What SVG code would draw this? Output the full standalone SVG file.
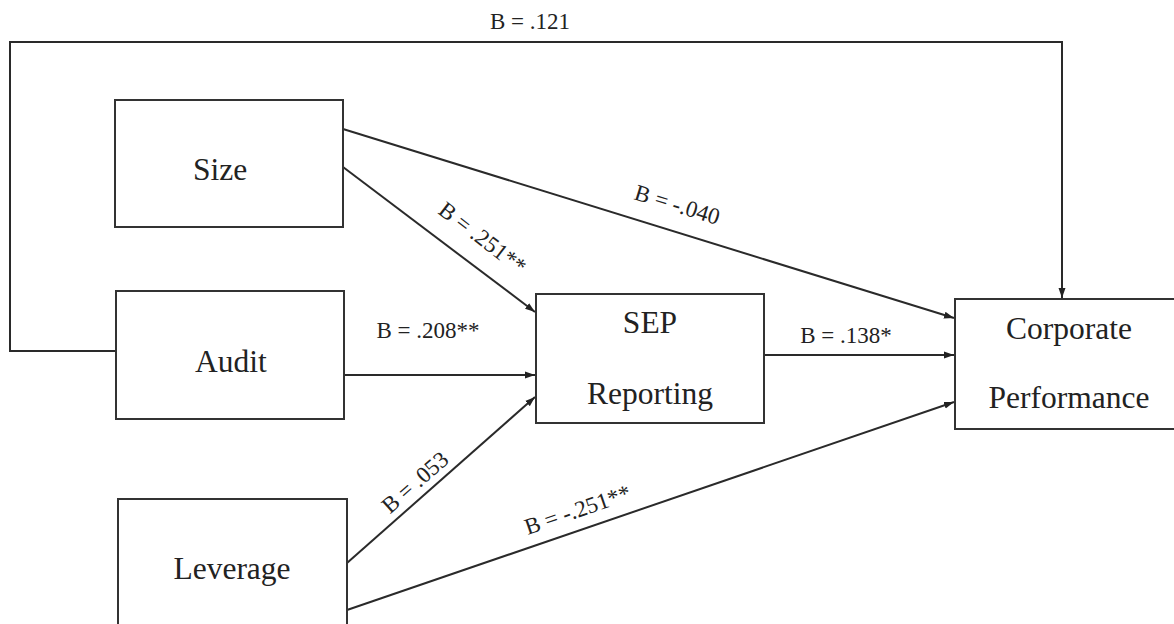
<svg xmlns="http://www.w3.org/2000/svg" width="1174" height="624" viewBox="0 0 1174 624">
<style>
.box{fill:#fff;stroke:#333;stroke-width:2}
.nt{font-family:"Liberation Serif","Times New Roman",serif;font-size:31.5px;fill:#222;text-anchor:middle}
.lb{font-family:"Liberation Serif","Times New Roman",serif;font-size:23px;fill:#222;text-anchor:middle}
.cn{fill:none;stroke:#2a2a2a;stroke-width:2}
</style>
<defs>
<marker id="ah" markerUnits="userSpaceOnUse" markerWidth="11" markerHeight="8" refX="10" refY="4" orient="auto">
<path d="M0,0.5 L10,4 L0,7.5 z" fill="#222"/>
</marker>
</defs>
<rect width="1174" height="624" fill="#fff"/>
<g id="connectors">
<path class="cn" d="M116,351 H10 V42 H1062 V298" marker-end="url(#ah)"/>
<path class="cn" d="M343,129 L954,318" marker-end="url(#ah)"/>
<path class="cn" d="M343,167 L535,312" marker-end="url(#ah)"/>
<path class="cn" d="M344,375 L535,375" marker-end="url(#ah)"/>
<path class="cn" d="M764,355 L954,355" marker-end="url(#ah)"/>
<path class="cn" d="M347,563 L535,397" marker-end="url(#ah)"/>
<path class="cn" d="M347,610 L954,402" marker-end="url(#ah)"/>
</g>
<g id="labels">
<text class="lb" x="530" y="29">B = .121</text>
<text class="lb" x="428" y="338">B = .208**</text>
<text class="lb" x="846" y="343">B = .138*</text>
<text class="lb" x="675" y="212" transform="rotate(17.2 675 212)">B = -.040</text>
<text class="lb" x="478" y="244" transform="rotate(37.5 478 244)">B = .251**</text>
<text class="lb" x="420" y="488" transform="rotate(-41.4 420 488)">B = .053</text>
<text class="lb" x="580" y="517" transform="rotate(-19 580 517)">B = -.251**</text>
</g>
<g id="size">
<rect class="box" x="115" y="100" width="228" height="127"/>
<text class="nt" x="220" y="180">Size</text>
</g>
<g id="audit">
<rect class="box" x="116" y="291" width="228" height="128"/>
<text class="nt" x="231" y="372">Audit</text>
</g>
<g id="leverage">
<rect class="box" x="118" y="499" width="229" height="130"/>
<text class="nt" x="232" y="579">Leverage</text>
</g>
<g id="sep">
<rect class="box" x="536" y="294" width="228" height="129"/>
<text class="nt" x="650" y="333">SEP</text>
<text class="nt" x="650" y="404">Reporting</text>
</g>
<g id="corporate">
<rect class="box" x="955" y="299" width="230" height="130"/>
<text class="nt" x="1069" y="339">Corporate</text>
<text class="nt" x="1069" y="408">Performance</text>
</g>
</svg>
